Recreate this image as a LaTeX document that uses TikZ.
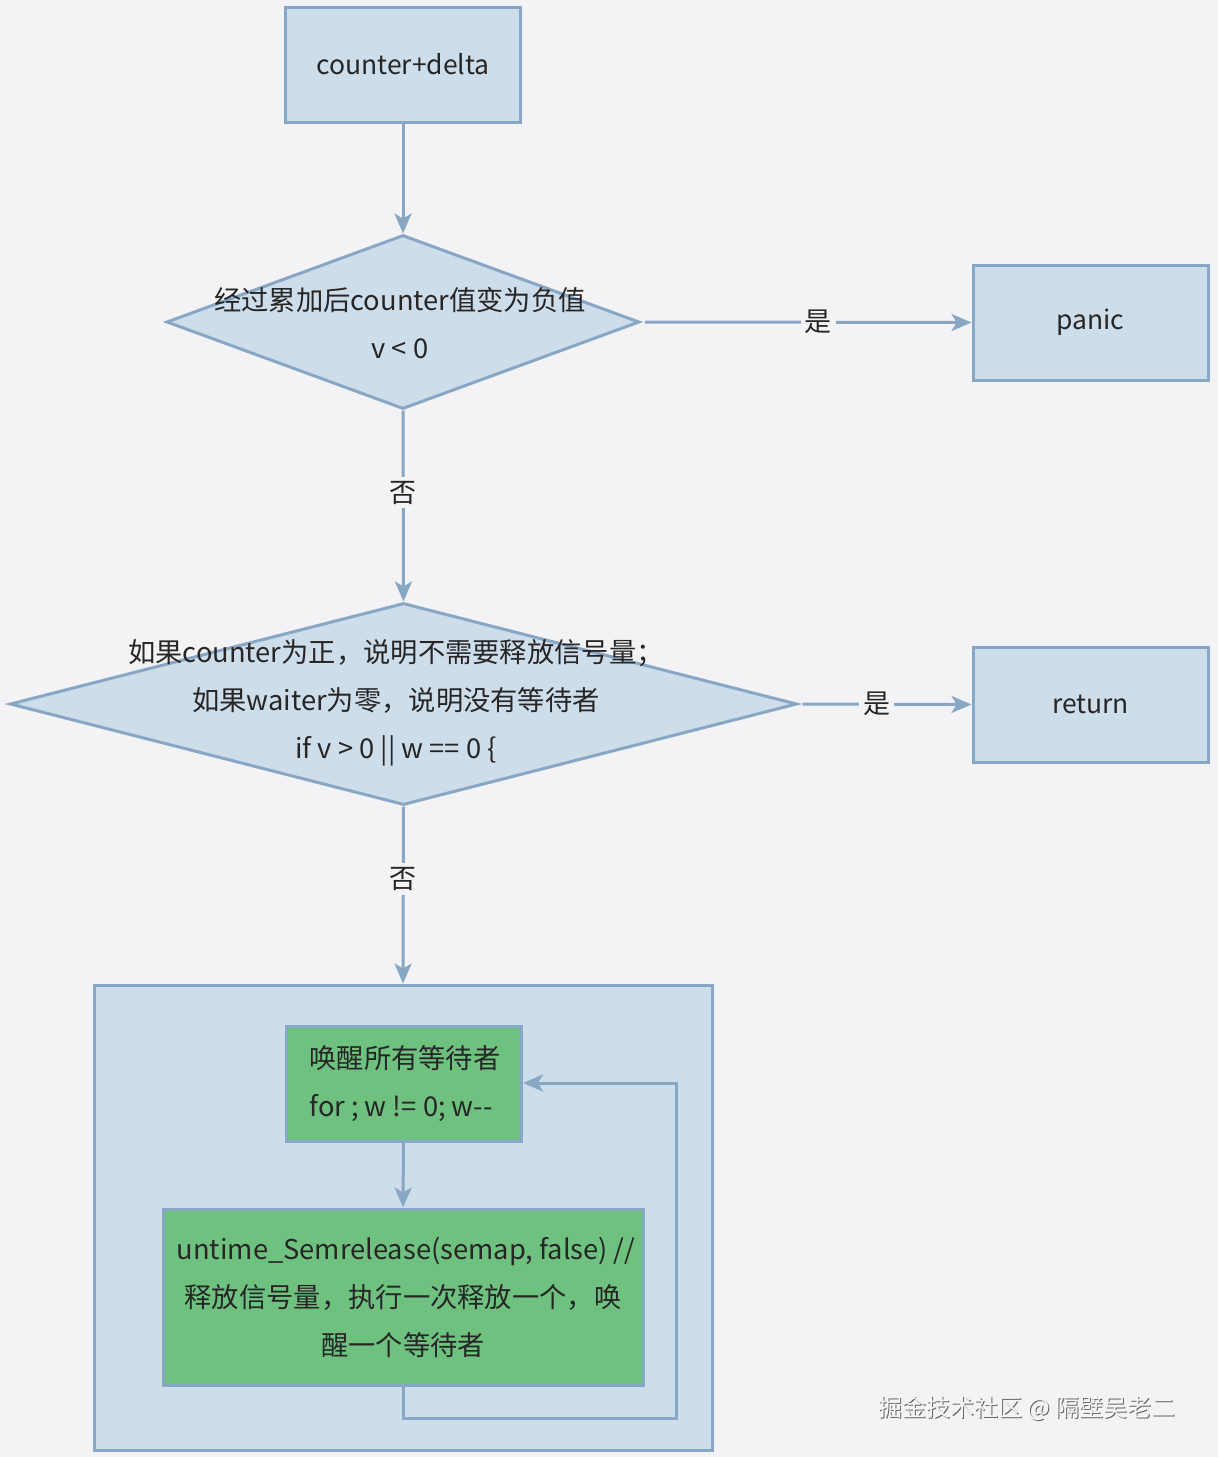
\documentclass[tikz,border=0pt]{standalone}
\usepackage{fontspec}
\setmainfont{Noto Sans CJK SC}
\usetikzlibrary{shapes.geometric,arrows.meta}
\definecolor{bg}{HTML}{F3F3F6}
\definecolor{bfill}{HTML}{CEDDEA}
\definecolor{bdraw}{HTML}{88A7C4}
\definecolor{gfill}{HTML}{6EC17F}
\definecolor{txt}{HTML}{262626}
\begin{document}
\begin{tikzpicture}[x=1pt,y=-1pt,
  box/.style={draw=bdraw, fill=bfill, line width=3pt, minimum width=235pt, minimum height=115pt, inner sep=0pt, text=txt, font=\fontsize{26.5}{48}\selectfont},
  gbox/.style={draw=bdraw, fill=gfill, line width=3pt, inner sep=0pt},
  dia/.style={diamond, draw=bdraw, fill=bfill, line width=3pt, inner sep=0pt},
  lbl/.style={font=\fontsize{27.3}{48}\selectfont, text=txt, align=center, inner sep=0pt},
  arr/.style={draw=bdraw, line width=3pt, -{Stealth[length=20pt,width=17pt,inset=5pt]}},
  elbl/.style={fill=bg, inner sep=4pt, text=txt, font=\fontsize{27}{30}\selectfont}]
\fill[bg] (0,0) rectangle (1218,1457);
\useasboundingbox (0,0) rectangle (1218,1457);

% nodes
\node[box] (start) at (403,64.5) {counter+delta};
\node[dia, minimum width=473pt, minimum height=174pt] (d1) at (403,322) {};
\node[lbl] (d1t) at (400,323) {经过累加后counter值变为负值\\v < 0};
\node[box] (panic) at (1090.5,322.5) {panic};
\node[dia, minimum width=787pt, minimum height=202pt] (d2) at (403.5,704) {};
\node[lbl] (d2t) at (396,703) {如果counter为正，说明不需要释放信号量；\\如果waiter为零，说明没有等待者\\if v > 0 || w == 0 \{};
\node[box] (ret) at (1090.5,704.5) {return};
\node[draw=bdraw, fill=bfill, line width=3pt, minimum width=618pt, minimum height=465pt, inner sep=0pt] (loop) at (403,1217.5) {};
\node[gbox, minimum width=235pt, minimum height=115pt] (g1) at (403.5,1083.5) {};
\node[lbl, align=left] (g1t) at (405,1084) {唤醒所有等待者\\for ; w != 0; w-{}-};
\node[gbox, minimum width=480pt, minimum height=176pt] (g2) at (403,1297) {};
\node[lbl] (g2t) at (403,1297) {\ untime\_Semrelease(semap, false) //\\释放信号量，执行一次释放一个，唤\\醒一个等待者};
\coordinate (lpA) at (403,1418);
\coordinate (lpB) at (676,1418);
\coordinate (lpC) at (676,1083);
\coordinate (g1in) at (523,1083);

% connectors
\draw[arr] (start.south) -- (d1.north);
\draw[arr] ([xshift=4pt]d1.east) -- node[elbl, pos=0.53] (y1) {是} (panic.west);
\draw[arr] (d1.south) -- node[elbl, pos=0.43] (n1) {否} (d2.north);
\draw[arr] ([xshift=4pt]d2.east) -- node[elbl, pos=0.44] (y2) {是} (ret.west);
\draw[arr] (d2.south) -- node[elbl, pos=0.41] (n2) {否} (loop.north);
\draw[arr] (g1.south) -- (g2.north);
\draw[arr] (g2.south) -- (lpA) -- (lpB) -- (lpC) -- (g1in);

% watermark
\node[font=\fontsize{24}{28}\selectfont, text=gray!80!black] (wms) at (1028,1409) {掘金技术社区 @ 隔壁吴老二};
\node[font=\fontsize{24}{28}\selectfont, text=white!92!gray] (wm) at (1027,1408) {掘金技术社区 @ 隔壁吴老二};
\end{tikzpicture}
\end{document}
